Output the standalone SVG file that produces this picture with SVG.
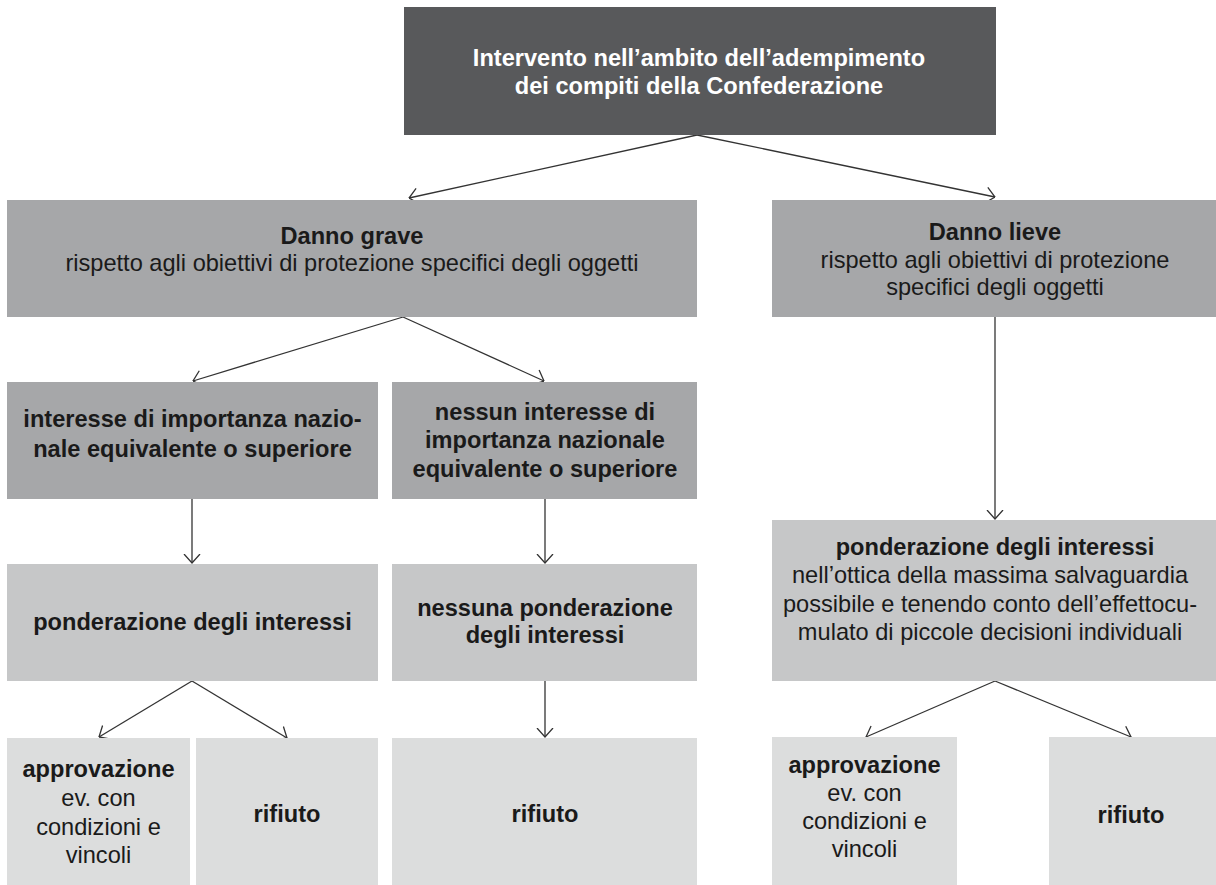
<svg xmlns="http://www.w3.org/2000/svg" width="1216" height="885" viewBox="0 0 1216 885">
<style>
text{font-family:"Liberation Sans",Arial,sans-serif;font-size:23.6px;fill:#1a1a1a;text-anchor:middle}
.b{font-weight:bold}
.w{fill:#ffffff}
.dark{fill:#58595b}
.mid{fill:#a6a7a9}
.light{fill:#c6c7c8}
.pale{fill:#dcdddd}
.c{fill:none;stroke:#333333;stroke-width:1.3}
</style>
<defs>
<marker id="ah" markerUnits="userSpaceOnUse" viewBox="0 0 10 18" refX="9.5" refY="9" markerWidth="10" markerHeight="18" orient="auto">
<path d="M0.5,1 L9.5,9 L0.5,17" fill="none" stroke="#333333" stroke-width="1.3"/>
</marker>
</defs>
<rect width="1216" height="885" fill="#ffffff"/>
<g id="connectors">
<path class="c" marker-end="url(#ah)" d="M697,135 L409,198"/>
<path class="c" marker-end="url(#ah)" d="M697,135 L995,197"/>
<path class="c" marker-end="url(#ah)" d="M403,317 L193,381"/>
<path class="c" marker-end="url(#ah)" d="M403,317 L544,381"/>
<path class="c" marker-end="url(#ah)" d="M192,499 L192,563"/>
<path class="c" marker-end="url(#ah)" d="M545,499 L545,563"/>
<path class="c" marker-end="url(#ah)" d="M192,681 L99,737"/>
<path class="c" marker-end="url(#ah)" d="M192,681 L287,738"/>
<path class="c" marker-end="url(#ah)" d="M545,681 L545,737"/>
<path class="c" marker-end="url(#ah)" d="M995,317 L995,519"/>
<path class="c" marker-end="url(#ah)" d="M995,681 L866,737"/>
<path class="c" marker-end="url(#ah)" d="M995,681 L1131,737"/>
</g>
<g id="intervento">
<rect class="dark" x="404" y="7" width="592" height="128"/>
<text class="b w" x="699" y="66">Intervento nell’ambito dell’adempimento</text>
<text class="b w" x="699" y="94">dei compiti della Confederazione</text>
</g>
<g id="danno-grave">
<rect class="mid" x="7" y="200" width="690" height="117"/>
<text class="b" x="352" y="244">Danno grave</text>
<text x="352" y="271">rispetto agli obiettivi di protezione specifici degli oggetti</text>
</g>
<g id="danno-lieve">
<rect class="mid" x="772" y="200" width="444" height="117"/>
<text class="b" x="995" y="240">Danno lieve</text>
<text x="995" y="268">rispetto agli obiettivi di protezione</text>
<text x="995" y="295">specifici degli oggetti</text>
</g>
<g id="interesse">
<rect class="mid" x="7" y="382" width="371" height="117"/>
<text class="b" x="192.5" y="427">interesse di importanza nazio-</text>
<text class="b" x="192.5" y="457">nale equivalente o superiore</text>
</g>
<g id="nessun-interesse">
<rect class="mid" x="392" y="382" width="305" height="117"/>
<text class="b" x="545" y="420">nessun interesse di</text>
<text class="b" x="545" y="448">importanza nazionale</text>
<text class="b" x="545" y="477">equivalente o superiore</text>
</g>
<g id="ponderazione-sx">
<rect class="light" x="7" y="564" width="371" height="117"/>
<text class="b" x="192.5" y="630">ponderazione degli interessi</text>
</g>
<g id="nessuna-ponderazione">
<rect class="light" x="392" y="564" width="305" height="117"/>
<text class="b" x="545" y="616">nessuna ponderazione</text>
<text class="b" x="545" y="643">degli interessi</text>
</g>
<g id="ponderazione-dx">
<rect class="light" x="772" y="520" width="444" height="161"/>
<text class="b" x="995" y="555">ponderazione degli interessi</text>
<text x="990" y="583">nell’ottica della massima salvaguardia</text>
<text x="990" y="612">possibile e tenendo conto dell’effettocu-</text>
<text x="990" y="640">mulato di piccole decisioni individuali</text>
</g>
<g id="approvazione-sx">
<rect class="pale" x="7" y="738" width="183" height="147"/>
<text class="b" x="98.5" y="777">approvazione</text>
<text x="98.5" y="806">ev. con</text>
<text x="98.5" y="835">condizioni e</text>
<text x="98.5" y="863">vincoli</text>
</g>
<g id="rifiuto-1">
<rect class="pale" x="196" y="738" width="182" height="147"/>
<text class="b" x="287" y="822">rifiuto</text>
</g>
<g id="rifiuto-2">
<rect class="pale" x="392" y="738" width="305" height="147"/>
<text class="b" x="545" y="822">rifiuto</text>
</g>
<g id="approvazione-dx">
<rect class="pale" x="772" y="737" width="185" height="148"/>
<text class="b" x="864.5" y="773">approvazione</text>
<text x="864.5" y="801">ev. con</text>
<text x="864.5" y="829">condizioni e</text>
<text x="864.5" y="857">vincoli</text>
</g>
<g id="rifiuto-3">
<rect class="pale" x="1049" y="737" width="167" height="148"/>
<text class="b" x="1131" y="823">rifiuto</text>
</g>
</svg>
